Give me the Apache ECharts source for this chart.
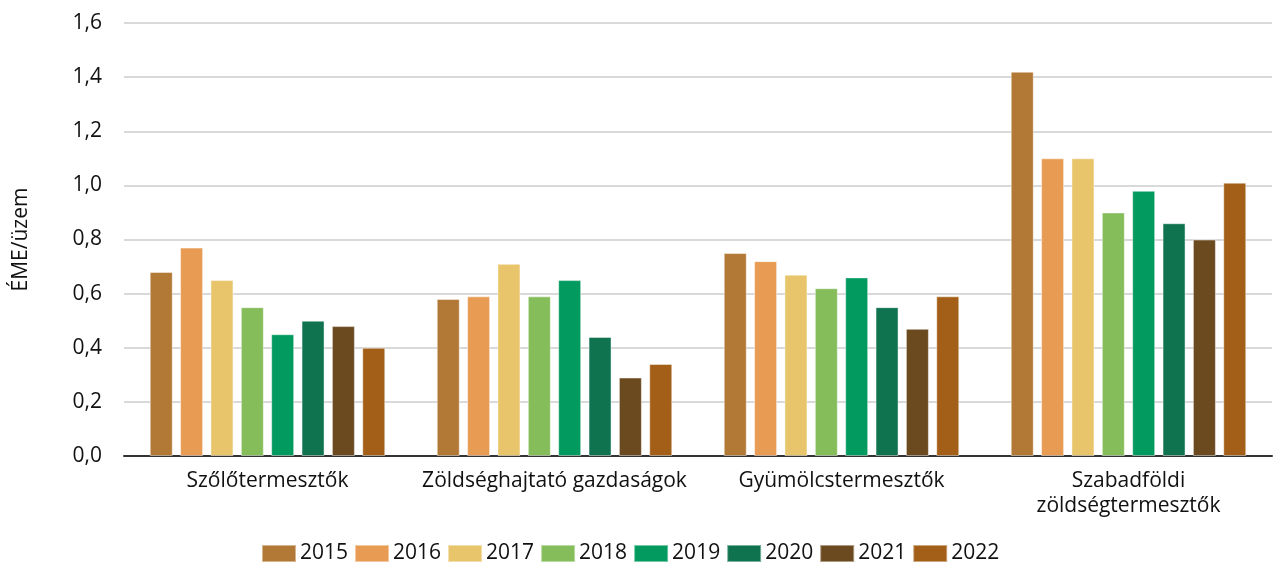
<!DOCTYPE html>
<html>
<head>
<meta charset="utf-8">
<script src="https://cdn.jsdelivr.net/npm/echarts@6/dist/echarts.min.js"></script>
<style>
html, body { margin: 0; padding: 0; background: #fff; }
#chart { width: 1276px; height: 567px; }
</style>
</head>
<body>
<div id="chart"></div>
<script>
var categories = ["Szőlőtermesztők", "Zöldséghajtató gazdaságok", "Gyümölcstermesztők", "Szabadföldi\nzöldségtermesztők"];
var years = ["2015", "2016", "2017", "2018", "2019", "2020", "2021", "2022"];
var colors = ["#b27835", "#e89b52", "#e8c46a", "#84bd5a", "#029a5f", "#107350", "#6b4a20", "#a35e17"];

var v2015 = [0.68, 0.58, 0.75, 1.42];
var v2016 = [0.77, 0.59, 0.72, 1.10];
var v2017 = [0.65, 0.71, 0.67, 1.10];
var v2018 = [0.55, 0.59, 0.62, 0.90];
var v2019 = [0.45, 0.65, 0.66, 0.98];
var v2020 = [0.50, 0.44, 0.55, 0.86];
var v2021 = [0.48, 0.29, 0.47, 0.80];
var v2022 = [0.40, 0.34, 0.59, 1.01];

var values = [v2015, v2016, v2017, v2018, v2019, v2020, v2021, v2022];
var font = "'Open Sans', sans-serif";

var chart = echarts.init(document.getElementById("chart"));

var series = [];
for (var i = 0; i < years.length; i++) {
    series.push({
        name: years[i],
        type: "bar",
        barWidth: 23,
        barGap: "32%",
        itemStyle: {
            color: colors[i],
            borderColor: "rgba(255,255,255,0.45)",
            borderWidth: 1
        },
        data: values[i]
    });
}

var option = {
    animation: false,
    textStyle: { fontFamily: font },
    grid: {
        left: 124,
        right: 4,
        top: 23,
        bottom: 111
    },
    legend: {
        top: 543,
        left: 261,
        padding: 0,
        itemWidth: 34,
        itemHeight: 17,
        itemGap: 6,
        icon: "rect",
        textStyle: { fontFamily: font, fontSize: 21, color: "#111", padding: [0, 0, 0, -1] },
        data: years
    },
    xAxis: {
        type: "category",
        data: categories,
        axisTick: { show: false },
        axisLine: { lineStyle: { color: "#333", width: 2 } },
        axisLabel: {
            interval: 0,
            fontFamily: font,
            fontSize: 21,
            color: "#111",
            margin: 13,
            lineHeight: 25
        }
    },
    yAxis: {
        type: "value",
        min: 0,
        max: 1.6,
        interval: 0.2,
        name: "ÉME/üzem",
        nameLocation: "middle",
        nameRotate: 90,
        nameGap: 92,
        nameTextStyle: { fontFamily: font, fontSize: 21, color: "#111" },
        axisLine: { show: false },
        axisTick: { show: false },
        splitLine: { lineStyle: { color: "#d9d9d9", width: 2 } },
        axisLabel: {
            fontFamily: font,
            fontSize: 21,
            color: "#111",
            margin: 22,
            formatter: function (v) { return v.toFixed(1).replace(".", ","); }
        }
    },
    series: series
};

chart.setOption(option);
</script>
</body>
</html>
